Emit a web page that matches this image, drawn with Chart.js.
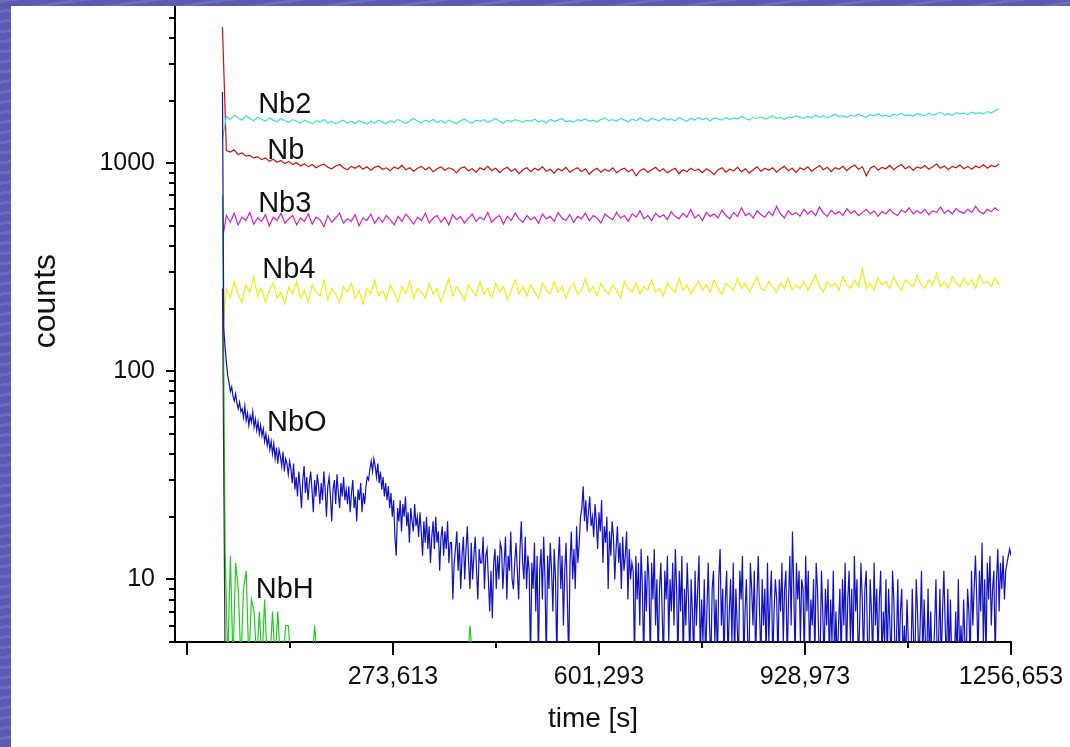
<!DOCTYPE html>
<html>
<head>
<meta charset="utf-8">
<script src="https://cdn.jsdelivr.net/npm/chart.js@4.4.1/dist/chart.umd.min.js"></script>
<style>
  html, body { margin: 0; padding: 0; }
  body {
    width: 1070px; height: 747px; overflow: hidden; position: relative;
    background-color: #5a5ab4;
    background-image: repeating-linear-gradient(172deg, rgba(255,255,255,0.10) 0 3px, rgba(0,0,0,0) 3px 10px);
  }
  #panel { position: absolute; left: 11px; top: 6px; width: 1059px; height: 741px; background: #fff; }
</style>
</head>
<body>
<div id="panel"><canvas id="chartId" width="1059" height="741"></canvas></div>
<script>
// x axis (time in s)
const xMin = -73000;
const xMax = 1256653;
const xTickValues = [-54067, 109773, 273613, 437453, 601293, 765133, 928973, 1092813, 1256653];
const xTickLabels = ['', '', '273,613', '', '601,293', '', '928,973', '', '1256,653'];

// y axis (counts, log)
const yMin = 5;
const yMax = 5692;
const yTickValues = [5, 6, 7, 8, 9, 10, 20, 30, 40, 50, 60, 70, 80, 90,
  100, 200, 300, 400, 500, 600, 700, 800, 900, 1000, 2000, 3000, 4000, 5000];
const yTickLabels = { 10: '10', 100: '100', 1000: '1000' };

// sampling of the measurement
const startTime = 2500;
const slowEndTime = 1237570;   // end of Nb, Nb2, Nb3, Nb4
const fastEndTime = 1256653;   // end of NbO
const nbhStep = 4189;          // NbH / black trace sampling

const nb2 = [
  1300, 1680, 1620, 1700, 1650, 1610, 1690, 1640, 1600, 1660,
  1630, 1590, 1650, 1610, 1580, 1640, 1600, 1570, 1620, 1590,
  1560, 1610, 1580, 1550, 1600, 1570, 1620, 1560, 1590, 1540,
  1580, 1610, 1560, 1590, 1550, 1600, 1570, 1540, 1590, 1560,
  1610, 1580, 1550, 1600, 1570, 1620, 1580, 1550, 1600, 1640,
  1590, 1560, 1610, 1580, 1620, 1570, 1600, 1560, 1610, 1580,
  1550, 1600, 1630, 1580, 1560, 1610, 1590, 1620, 1570, 1600,
  1640, 1590, 1560, 1610, 1580, 1620, 1600, 1570, 1610, 1590,
  1630, 1580, 1600, 1560, 1620, 1590, 1610, 1640, 1580, 1600,
  1570, 1620, 1600, 1630, 1590, 1610, 1580, 1620, 1650, 1600,
  1620, 1590, 1640, 1610, 1580, 1630, 1600, 1650, 1610, 1590,
  1640, 1620, 1600, 1650, 1610, 1630, 1600, 1660, 1620, 1590,
  1640, 1610, 1660, 1620, 1640, 1600, 1650, 1630, 1610, 1660,
  1620, 1650, 1630, 1680, 1640, 1610, 1660, 1640, 1670, 1630,
  1650, 1690, 1640, 1660, 1620, 1670, 1650, 1690, 1660, 1640,
  1680, 1650, 1700, 1660, 1690, 1650, 1680, 1720, 1670, 1690,
  1660, 1700, 1680, 1720, 1690, 1660, 1710, 1690, 1730, 1680,
  1700, 1670, 1720, 1700, 1740, 1690, 1710, 1680, 1730, 1710,
  1690, 1740, 1700, 1720, 1760, 1710, 1730, 1700, 1750, 1720,
  1740, 1710, 1760, 1730, 1750, 1720, 1770, 1740, 1790, 1830
];

const nb = [
  4500, 1150, 1130, 1160, 1100, 1120, 1080, 1090, 1060, 1075,
  1040, 1060, 1020, 1045, 1010, 1030, 995, 1020, 985, 1005,
  970, 995, 960, 985, 950, 975, 990, 955, 940, 970,
  985, 950, 930, 965, 945, 975, 935, 960, 925, 955,
  970, 935, 950, 920, 960, 940, 975, 930, 950, 915,
  945, 965, 930, 955, 910, 940, 960, 925, 950, 935,
  900, 945, 960, 920, 940, 905, 950, 930, 965, 920,
  945, 900, 935, 955, 915, 940, 890, 930, 950, 910,
  945, 925, 960, 915, 935, 895, 940, 920, 955, 905,
  930, 950, 910, 940, 885, 925, 945, 905, 935, 915,
  950, 900, 930, 945, 910, 935, 870, 920, 940, 905,
  930, 955, 915, 940, 900, 925, 945, 890, 930, 910,
  945, 920, 935, 900, 940, 915, 880, 930, 950, 905,
  935, 920, 955, 910, 940, 895, 930, 960, 915, 945,
  925, 950, 905, 940, 965, 920, 945, 900, 950, 930,
  960, 915, 945, 975, 930, 955, 910, 950, 935, 965,
  920, 955, 980, 935, 960, 870, 945, 970, 925, 955,
  940, 975, 930, 960, 985, 940, 965, 925, 960, 945,
  975, 935, 960, 990, 945, 970, 930, 965, 950, 980,
  940, 965, 935, 970, 950, 985, 945, 975, 960, 990
];

const nb3 = [
  430, 560, 520, 575, 505, 550, 530, 580, 510, 545,
  525, 565, 500, 550, 530, 575, 515, 540, 560, 505,
  545, 525, 570, 510, 550, 535, 495, 560, 520, 545,
  575, 515, 540, 525, 565, 500, 545, 530, 570, 515,
  550, 520, 560, 535, 505, 555, 525, 570, 540, 510,
  550, 530, 575, 515, 545, 560, 520, 550, 505, 565,
  535, 555, 515, 545, 570, 525, 550, 535, 580, 520,
  545, 560, 510, 555, 530, 575, 540, 520, 560, 535,
  550, 515, 570, 540, 555, 525, 580, 545, 530, 565,
  520, 555, 540, 575, 530, 560, 545, 515, 570, 550,
  535, 580, 545, 560, 525, 570, 550, 590, 540, 560,
  530, 575, 550, 565, 535, 585, 555, 540, 575, 550,
  600, 545, 565, 530, 580, 555, 570, 545, 595, 560,
  540, 580, 555, 610, 560, 575, 545, 590, 565, 550,
  585, 560, 620, 570, 545, 590, 565, 580, 555, 600,
  570, 590, 560, 615, 575, 555, 595, 570, 585, 560,
  605, 575, 590, 560, 580, 600, 570, 590, 555, 585,
  570, 600, 575, 560, 595, 580, 610, 570, 590, 575,
  600, 565, 590, 580, 615, 575, 595, 570, 605, 585,
  575, 600, 580, 620, 585, 570, 600, 585, 610, 590
];

const nb4 = [
  150, 250, 225, 270, 235, 215, 260, 240, 285, 230,
  250, 215, 245, 265, 225, 240, 210, 255, 235, 270,
  225, 245, 215, 260, 240, 230, 275, 220, 250, 235,
  215, 255, 240, 265, 225, 245, 210, 250, 235, 275,
  230, 245, 220, 260, 240, 215, 255, 235, 270, 225,
  250, 240, 225, 265, 235, 250, 215, 245, 280, 230,
  255, 240, 220, 260, 245, 230, 270, 235, 250, 225,
  265, 240, 255, 220, 245, 275, 235, 255, 230, 260,
  240, 225, 265, 245, 235, 270, 240, 255, 225, 250,
  265, 235, 245, 280, 240, 255, 230, 265, 245, 235,
  260, 245, 225, 270, 250, 240, 265, 235, 255, 245,
  275, 240, 250, 230, 265, 250, 240, 280, 245, 260,
  235, 255, 270, 245, 260, 240, 275, 250, 235, 265,
  255, 245, 280, 250, 265, 240, 260, 285, 250, 245,
  270, 255, 240, 265, 250, 280, 245, 260, 250, 270,
  245, 265, 290, 255, 240, 270, 255, 265, 245, 285,
  260, 250, 275, 255, 310, 250, 265, 245, 280, 260,
  270, 250, 285, 260, 245, 275, 265, 255, 290, 260,
  250, 275, 260, 295, 255, 270, 250, 285, 265, 255,
  280, 260, 275, 250, 290, 265, 270, 255, 280, 260
];

// values of 4 sit under the axis floor (zero counts)
const nbo = [
  2200, 160, 130, 110, 95,
  88, 80, 84, 76, 72, 78, 70, 66, 71, 64,
  66, 60, 68, 58, 63, 55, 61, 57, 64, 54, 59, 52, 57, 50, 55,
  49, 53, 46, 50, 44, 48, 42, 46, 40, 45, 38, 43, 36, 42, 39, 35, 41, 33, 38, 36, 32, 37,
  34, 29, 36, 27, 31, 25, 33, 28, 22, 30, 35, 26, 31, 24, 29, 33, 27, 21, 30, 25, 32, 28, 23,
  29, 24, 33, 27, 20, 28, 31, 25, 19, 27, 30, 23, 32, 26, 22, 29, 25, 31, 24, 27,
  23, 28, 21, 26, 30, 22, 25, 19, 27, 24, 29, 21, 26, 23, 28, 31,
  30, 34, 37, 33, 38, 35, 31, 36, 29, 33,
  27, 31, 25, 29, 24, 28, 22, 26, 20, 24, 16, 13,
  22, 19, 24, 17, 23, 20, 25, 18, 21, 15, 22, 19, 17, 23, 18, 20, 16, 21,
  17, 13, 19, 15, 20, 14, 18, 12, 16, 19, 14, 20, 15, 17, 11, 16, 18, 13, 17, 14, 19, 12, 15,
  15, 8, 12, 14, 17, 11, 15, 9, 13, 16, 10, 14, 18, 12, 9, 15, 10, 13, 16, 11, 8, 14, 12,
  12, 16, 9, 13, 14, 10, 7, 11, 6.5, 12, 14, 9, 13, 10, 15,
  14, 9, 12, 16, 8, 13, 11, 17, 10, 9, 12, 15, 11, 8, 14, 19, 12, 10, 16, 9, 13, 11, 4,
  12, 9, 15, 7, 13, 4, 11, 14, 8, 16, 10, 4, 13, 9, 15, 11, 7, 14, 10, 4,
  12, 16, 9, 13, 6, 11, 15, 8, 4, 12, 17, 10, 14, 9, 18, 12, 15, 20,
  22, 28, 19, 24, 17, 21, 25, 18, 20,
  16, 23, 19, 14, 21, 17, 24, 12, 18, 15, 20, 9, 17, 13, 19, 16, 10, 14, 18, 12,
  15, 9, 16, 11, 13, 17, 8, 14, 10, 12,
  11, 4, 13, 8, 12, 6, 14, 9, 4, 11, 7, 13, 10, 4, 12, 8, 14, 6, 10, 4,
  9, 12, 7, 4, 11, 8, 13, 5, 10, 7,
  12, 6, 14, 9, 4, 11, 7, 13, 4, 9, 6, 12, 8, 4, 10, 7, 4, 11, 6, 9,
  13, 4, 8, 5, 10, 4, 7, 12, 6, 4, 9, 11, 5, 8, 4, 10, 14, 6, 9, 4,
  8, 11, 4, 7, 10, 5, 12, 4, 9, 6, 4, 11, 8, 13, 4, 7, 10, 5, 4, 12,
  9, 6, 11, 4, 8, 13, 7, 4, 10, 6, 9, 4, 12, 5, 8, 11, 4, 7, 10,
  8, 4, 10, 7, 12, 5, 9, 11, 4, 8, 13, 6, 17, 9, 4, 12, 8, 11, 5, 10,
  9, 4, 13, 7, 11, 4, 8, 6, 10, 4, 12, 9, 5, 4, 11, 7, 4, 9, 6, 10,
  4, 8, 5, 11, 4, 7, 4, 6, 9, 4, 10, 6, 12, 4, 8, 11, 5, 9, 4, 13,
  7, 10, 4, 6, 12, 8, 4, 9, 11, 5, 4, 10, 7, 4, 12, 6, 9, 4, 8, 11,
  4, 7, 5, 10, 4, 9, 6, 4, 11, 8, 4, 5, 10, 4, 7, 9, 4, 6, 4, 8,
  5, 4,
  4, 9, 5, 4, 10, 7, 4, 6, 11, 4, 8, 5, 4, 9, 4, 7, 4, 4, 6, 10,
  4, 5, 9, 4, 7, 11, 6, 4, 9, 4, 8, 4, 5, 4, 7, 4, 10, 4, 6, 4,
  8, 5, 4, 9, 7, 4, 11, 6, 9, 13, 8, 4, 11, 7, 15, 5, 10, 4, 12, 8,
  13, 6, 9, 11, 4, 10, 14, 7, 12, 9, 13, 8, 11, 12, 13, 14, 13
];

const nbh = [
  700, 14, 4, 13, 4, 12, 9, 4, 9, 11, 4, 8, 7, 4, 7, 4, 8, 4, 4, 7,
  4, 7, 4, 4, 6, 6, 4, 4, 4, 4, 4, 4, 4, 4, 4, 6, 4,
  4, 4, 4, 4, 4, 4, 4, 4, 4, 4, 4, 4, 4, 4, 4, 4, 4, 4, 4, 4,
  4, 4, 4, 4, 4, 4, 4, 4, 4, 4, 4, 4, 4, 4, 4, 4, 4, 4, 4, 4,
  4, 4, 4, 4, 4, 4, 4, 4, 4, 4, 4, 4, 4, 4, 4, 4, 4, 6, 4
];

const blk = [250, 4];

// text labels next to the traces (data coordinates)
const labelTexts = ['Nb2', 'Nb', 'Nb3', 'Nb4', 'NbO', 'NbH'];
const labelTimes = [101600, 103200, 101600, 108000, 120700, 101600];
const labelCounts = [1910, 1148, 639, 305, 56.7, 8.85];

const fontFamily = '"Liberation Sans", Arial, Helvetica, sans-serif';

function toPoints(values, endTime) {
    const dt = (endTime - startTime) / (values.length - 1);
    return values.map((v, i) => ({ x: startTime + i * dt, y: v }));
}

// long/short tick marks, the trace names and the y title
const tickMarks = {
    id: 'tickMarks',
    afterDraw(chart) {
        const { ctx, chartArea, scales } = chart;
        const x = scales.x, y = scales.y;
        ctx.save();
        ctx.strokeStyle = '#000';
        ctx.lineWidth = 2;
        ctx.beginPath();
        xTickValues.forEach((v, i) => {
            const px = Math.round(x.getPixelForValue(v));
            const len = i % 2 === 0 ? 13 : 6;
            ctx.moveTo(px, chartArea.bottom);
            ctx.lineTo(px, chartArea.bottom + len);
        });
        yTickValues.forEach(v => {
            const py = Math.round(y.getPixelForValue(v));
            const len = yTickLabels[v] ? 9 : 6;
            ctx.moveTo(chartArea.left - len, py);
            ctx.lineTo(chartArea.left, py);
        });
        ctx.stroke();

        ctx.fillStyle = '#111';
        ctx.font = '29px ' + fontFamily;
        ctx.textAlign = 'center';
        ctx.textBaseline = 'middle';
        labelTexts.forEach((t, i) => {
            ctx.fillText(t, x.getPixelForValue(labelTimes[i]), y.getPixelForValue(labelCounts[i]));
        });

        // y title sits a bit above the middle of the axis
        ctx.font = '32px ' + fontFamily;
        ctx.translate(35, chartArea.top + (chartArea.bottom - chartArea.top) * 0.464);
        ctx.rotate(-Math.PI / 2);
        ctx.fillText('counts', 0, 0);
        ctx.restore();
    }
};

const ctx = document.getElementById('chartId').getContext('2d');

new Chart(ctx, {
    type: 'line',
    data: {
        datasets: [
            { label: 'NbO', data: toPoints(nbo, fastEndTime), borderColor: '#1212c2' },
            { label: '', data: toPoints(blk, startTime + nbhStep), borderColor: '#333333' },
            { label: 'NbH', data: toPoints(nbh, startTime + nbhStep * (nbh.length - 1)), borderColor: '#22cc22' },
            { label: 'Nb4', data: toPoints(nb4, slowEndTime), borderColor: '#eeee10' },
            { label: 'Nb3', data: toPoints(nb3, slowEndTime), borderColor: '#cc22cc' },
            { label: 'Nb2', data: toPoints(nb2, slowEndTime), borderColor: '#3ddede' },
            { label: 'Nb', data: toPoints(nb, slowEndTime), borderColor: '#cc1111' }
        ]
    },
    options: {
        responsive: false,
        animation: false,
        events: [],
        parsing: false,
        normalized: true,
        layout: { padding: { top: 0, right: 59, bottom: 0, left: 0 } },
        plugins: { legend: { display: false }, tooltip: { enabled: false } },
        elements: {
            point: { radius: 0 },
            line: { borderWidth: 1.2, tension: 0 }
        },
        scales: {
            x: {
                type: 'linear',
                min: xMin,
                max: xMax,
                afterBuildTicks: (scale) => { scale.ticks = xTickValues.map(v => ({ value: v })); },
                afterFit: (scale) => {
                    scale.height = 105;
                    scale.paddingLeft = 0;
                    scale.paddingRight = 0;
                },
                ticks: {
                    autoSkip: false,
                    maxRotation: 0,
                    padding: 14,
                    color: '#111',
                    font: { family: fontFamily, size: 25 },
                    callback: (value) => {
                        const i = xTickValues.indexOf(value);
                        return i >= 0 && xTickLabels[i] ? xTickLabels[i] : null;
                    }
                },
                grid: { drawOnChartArea: false, tickLength: 6, tickColor: 'rgba(0,0,0,0)' },
                border: { color: '#000', width: 2 },
                title: {
                    display: true,
                    text: 'time [s]',
                    color: '#111',
                    font: { family: fontFamily, size: 28 },
                    padding: { top: 0, bottom: 11 }
                }
            },
            y: {
                type: 'logarithmic',
                min: yMin,
                max: yMax,
                afterBuildTicks: (scale) => { scale.ticks = yTickValues.map(v => ({ value: v })); },
                afterFit: (scale) => {
                    scale.width = 164;
                    scale.paddingTop = 0;
                    scale.paddingBottom = 0;
                },
                ticks: {
                    autoSkip: false,
                    padding: 11,
                    color: '#111',
                    font: { family: fontFamily, size: 25 },
                    callback: (value) => yTickLabels[value] || null
                },
                grid: { drawOnChartArea: false, tickLength: 9, tickColor: 'rgba(0,0,0,0)' },
                border: { color: '#000', width: 2 },
                title: { display: false }
            }
        }
    },
    plugins: [tickMarks]
});
</script>
</body>
</html>
